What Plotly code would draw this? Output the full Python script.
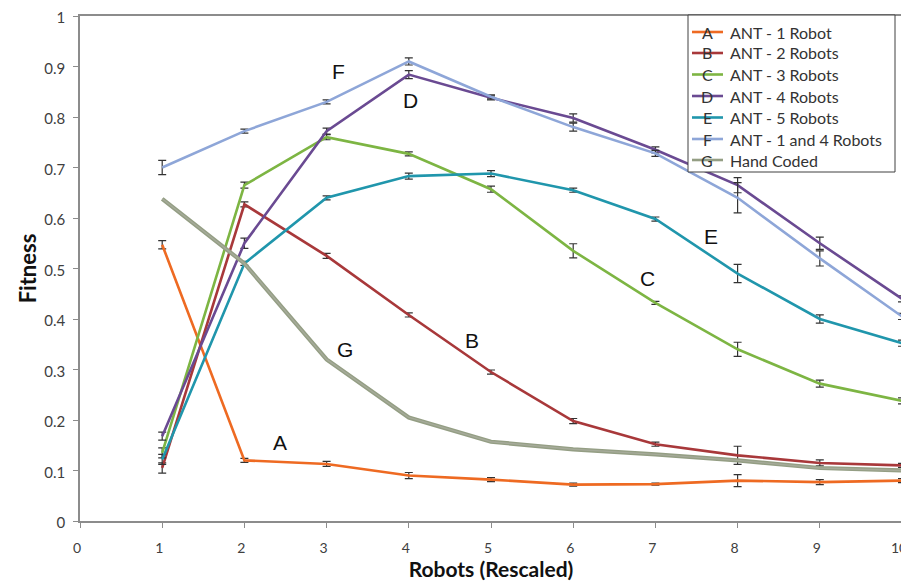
import plotly.graph_objects as go

x_vals = [1, 2, 3, 4, 5, 6, 7, 8, 9, 10]

ant1 = [0.547, 0.120, 0.113, 0.090, 0.082, 0.072, 0.073, 0.080, 0.077, 0.080]
ant1_err = [0.008, 0.004, 0.005, 0.006, 0.004, 0.003, 0.002, 0.012, 0.005, 0.004]
ant2 = [0.105, 0.627, 0.525, 0.408, 0.295, 0.198, 0.152, 0.130, 0.115, 0.110]
ant2_err = [0.010, 0.005, 0.005, 0.004, 0.004, 0.005, 0.004, 0.018, 0.006, 0.004]
ant3 = [0.135, 0.665, 0.760, 0.727, 0.657, 0.535, 0.432, 0.340, 0.272, 0.238]
ant3_err = [0.010, 0.006, 0.005, 0.004, 0.006, 0.014, 0.003, 0.014, 0.007, 0.006]
ant4 = [0.168, 0.550, 0.772, 0.884, 0.838, 0.798, 0.735, 0.665, 0.550, 0.440]
ant4_err = [0.008, 0.010, 0.006, 0.008, 0.004, 0.008, 0.006, 0.015, 0.012, 0.006]
ant5 = [0.122, 0.510, 0.640, 0.683, 0.688, 0.655, 0.598, 0.490, 0.400, 0.352]
ant5_err = [0.010, 0.004, 0.004, 0.006, 0.006, 0.004, 0.004, 0.018, 0.008, 0.006]
ant14 = [0.700, 0.772, 0.830, 0.910, 0.840, 0.780, 0.728, 0.640, 0.520, 0.405]
ant14_err = [0.014, 0.004, 0.004, 0.007, 0.004, 0.008, 0.006, 0.030, 0.015, 0.006]
hand = [0.638, 0.510, 0.320, 0.205, 0.157, 0.142, 0.132, 0.120, 0.105, 0.100]

series_names = ["ANT - 1 Robot", "ANT - 2 Robots", "ANT - 3 Robots", "ANT - 4 Robots",
                "ANT - 5 Robots", "ANT - 1 and 4 Robots", "Hand Coded"]
series_letters = ["A", "B", "C", "D", "E", "F", "G"]
series_colors = ["#EE6A22", "#A8383A", "#7DB543", "#6A4A92", "#2096AC", "#8EA6D8", "#949E84"]

label_x = [2.43, 4.77, 6.9, 4.02, 7.68, 3.14, 3.22]
label_y = [0.156, 0.358, 0.481, 0.832, 0.564, 0.891, 0.339]

fig = go.Figure()

data = [(ant1, ant1_err), (ant2, ant2_err), (ant3, ant3_err), (ant4, ant4_err),
        (ant5, ant5_err), (ant14, ant14_err)]
for (vals, errs), name, col in zip(data, series_names[:6], series_colors[:6]):
    fig.add_trace(go.Scatter(
        x=x_vals, y=vals, name=name, mode="lines",
        line=dict(color=col, width=2.6),
        error_y=dict(type="data", array=errs, visible=True, color="#333333",
                     thickness=1.2, width=4),
        showlegend=False, cliponaxis=False))

# Hand coded: double line look
fig.add_trace(go.Scatter(x=x_vals, y=hand, mode="lines", name=series_names[6],
                         line=dict(color=series_colors[6], width=4.2), showlegend=False))
fig.add_trace(go.Scatter(x=x_vals, y=hand, mode="lines", name=series_names[6],
                         line=dict(color="#A6AB9A", width=1.4), showlegend=False,
                         hoverinfo="skip"))

# Letters on the chart
for lt, lx, ly in zip(series_letters, label_x, label_y):
    fig.add_annotation(x=lx, y=ly, text=lt, showarrow=False,
                       font=dict(family="Liberation Sans, Arial", size=21, color="#111111"))

# Page offset (default body margin of the html page)
OFF = 8
W, H = 901, 575
ml, mr, mt, mb = 72, 7, 8, 62
pw, ph = W - ml - mr, H - mt - mb


def px_to_paper(px, py):
    return (px - OFF - ml) / pw, (OFF + H - mb - py) / ph


x0, y0 = px_to_paper(688, 15)
x1, y1 = px_to_paper(895, 172)
fig.add_shape(type="rect", xref="paper", yref="paper", x0=x0, y0=y1, x1=x1, y1=y0,
              line=dict(color="#404040", width=1), fillcolor="white", layer="above")
row_y = [32, 53, 74.5, 96, 117.5, 139, 160]
for i, (name, lt, col) in enumerate(zip(series_names, series_letters, series_colors)):
    ya = px_to_paper(0, row_y[i])[1]
    lx0 = px_to_paper(692, 0)[0]
    lx1 = px_to_paper(723, 0)[0]
    fig.add_shape(type="line", xref="paper", yref="paper", x0=lx0, x1=lx1, y0=ya, y1=ya,
                  line=dict(color=col, width=2.6), layer="above")
    fig.add_annotation(xref="paper", yref="paper", x=px_to_paper(707, 0)[0], y=ya,
                       text=lt, showarrow=False, xanchor="center", yanchor="middle",
                       font=dict(family="Lato, Open Sans", size=16, color="#333333"))
    fig.add_annotation(xref="paper", yref="paper", x=px_to_paper(728, 0)[0], y=ya,
                       text=name, showarrow=False, xanchor="left", yanchor="middle",
                       font=dict(family="Lato, Open Sans", size=16, color="#333333"))

fig.update_layout(
    width=W, height=H,
    margin=dict(l=ml, r=mr, t=mt, b=mb, autoexpand=False),
    plot_bgcolor="white", paper_bgcolor="white",
    showlegend=False,
    font=dict(family="Lato, Open Sans", color="#404040"),
)
fig.update_xaxes(
    range=[0, 10], dtick=1, tick0=0, showgrid=False, zeroline=False, automargin=False,
    showline=True, linecolor="#8C8C8C", linewidth=1.5, mirror=True,
    ticks="outside", ticklen=5, tickcolor="#8C8C8C", ticklabelstandoff=8,
    ticklabelshift=-3, ticklabeloverflow="allow",
    tickfont=dict(size=14, color="#404040"),
    title=dict(text="<b>Robots (Rescaled)</b>", font=dict(size=21, color="#111111"), standoff=7),
)
fig.update_yaxes(
    range=[0, 1], dtick=0.1, tick0=0, showgrid=False, zeroline=False, automargin=False,
    showline=True, linecolor="#8C8C8C", linewidth=1.5, mirror=True,
    ticks="outside", ticklen=5, tickcolor="#8C8C8C", ticklabelstandoff=5,
    ticklabelshift=2, ticklabeloverflow="allow",
    tickfont=dict(size=15, color="#404040"),
    title=dict(text="<b>Fitness</b>", font=dict(size=22, color="#111111"), standoff=2),
)

fig.write_html("out.html")
